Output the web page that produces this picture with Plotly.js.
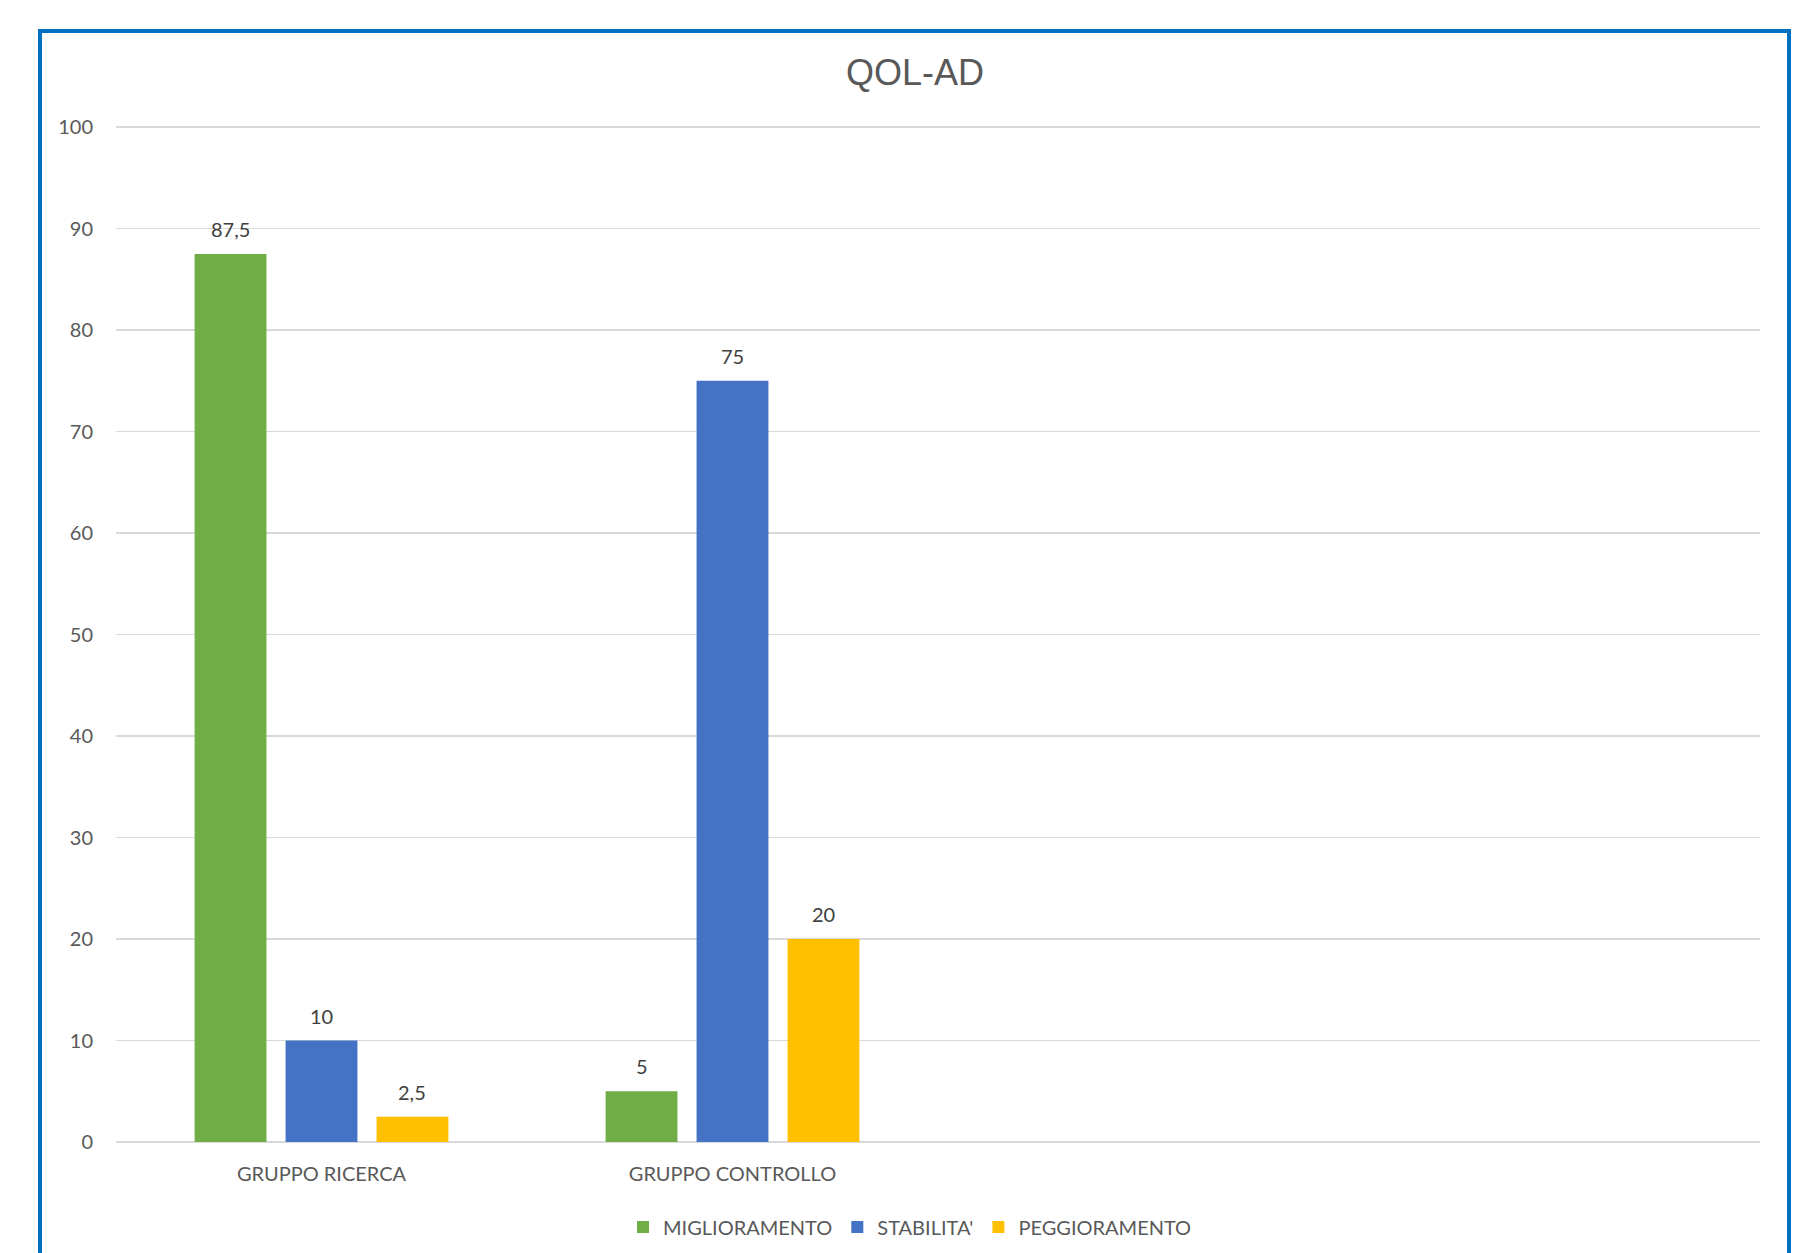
<!DOCTYPE html>
<html>
<head>
<meta charset="utf-8">
<script src="https://cdn.plot.ly/plotly-3.0.1.min.js"></script>
<style>
  html, body { margin: 0; padding: 0; background: #ffffff; }
  #chart { width: 1802px; height: 1253px; }
</style>
</head>
<body>
<div id="chart"></div>
<script>
const categories = ['GRUPPO RICERCA', 'GRUPPO CONTROLLO', ' ', '  '];
const groups = ['GRUPPO RICERCA', 'GRUPPO CONTROLLO'];
const seriesNames = ['MIGLIORAMENTO', "STABILITA'", 'PEGGIORAMENTO'];
const miglioramento = [87.5, 5];
const stabilita = [10, 75];
const peggioramento = [2.5, 20];
const yTicks = [0, 10, 20, 30, 40, 50, 60, 70, 80, 90, 100];

const colors = ['#70AD47', '#4472C4', '#FFC000'];
const seriesValues = [miglioramento, stabilita, peggioramento];
const fmt = v => String(v).replace('.', ',');

const baseFont = "Lato, 'Open Sans', 'Noto Sans', sans-serif";

const bargap = 0.336;
const nSeries = seriesValues.length;
const slot = (1 - bargap) / nSeries;

const traces = seriesValues.map((vals, i) => ({
  type: 'bar',
  name: seriesNames[i],
  x: groups,
  y: vals,
  marker: { color: colors[i], line: { width: 0 } },
  hoverinfo: 'skip'
}));

// data labels placed above each bar (category index + group offset)
const annotations = [];
seriesValues.forEach((vals, i) => {
  vals.forEach((v, j) => {
    annotations.push({
      xref: 'x', yref: 'y',
      x: j + (i - (nSeries - 1) / 2) * slot,
      y: v,
      text: fmt(v),
      showarrow: false,
      yanchor: 'middle',
      xanchor: 'center',
      yshift: 25,
      font: { family: baseFont, size: 20, color: '#404040' }
    });
  });
});

// plot area in pixels: x 116..1760, y 127..1142
const L = 116, R = 1760, B = 1142;
const unit = 10.15; // px per y unit
const yMax = 100.3;
const T = Math.round(B - yMax * unit);
const W = R - L, H = B - T;
const px = x => (x - L) / W;
const py = y => (B - y) / H;

const layout = {
  width: 1802,
  height: 1253,
  paper_bgcolor: '#ffffff',
  plot_bgcolor: '#ffffff',
  margin: { l: L, r: 1802 - R, t: T, b: 1253 - B, pad: 0, autoexpand: false },
  font: { family: baseFont, color: '#595959', size: 20 },
  title: {
    text: 'QOL-AD',
    font: { family: "'Liberation Sans', Arial, sans-serif", size: 36, color: '#595959' },
    x: 915 / 1802, xref: 'container', xanchor: 'center',
    y: 1 - 72 / 1253, yref: 'container', yanchor: 'middle'
  },
  barmode: 'group',
  bargap: bargap,
  bargroupgap: 0.21,
  showlegend: true,
  legend: {
    orientation: 'h',
    x: px(910), xanchor: 'center',
    y: py(1227), yanchor: 'middle',
    font: { family: baseFont, size: 20, color: '#595959' },
    itemwidth: 30,
    traceorder: 'normal'
  },
  xaxis: {
    type: 'category',
    categoryorder: 'array',
    categoryarray: categories,
    range: [-0.5, 3.5],
    showgrid: false,
    showline: false,
    zeroline: false,
    ticks: '',
    ticklabelstandoff: 18,
    tickfont: { family: baseFont, size: 20, color: '#595959' },
    fixedrange: true
  },
  yaxis: {
    range: [0, yMax],
    tickvals: yTicks,
    ticktext: yTicks.map(String),
    showgrid: true,
    gridcolor: '#D9D9D9',
    gridwidth: 1.5,
    zeroline: true,
    zerolinecolor: '#D9D9D9',
    zerolinewidth: 1.5,
    showline: false,
    ticks: '',
    ticklabelstandoff: 22,
    tickfont: { family: baseFont, size: 20, color: '#595959' },
    fixedrange: true
  },
  annotations: annotations,
  shapes: [{
    type: 'rect',
    xref: 'paper', yref: 'paper',
    x0: px(40), x1: px(1789),
    y0: py(1270), y1: py(31),
    line: { color: '#0070C0', width: 4 },
    fillcolor: 'rgba(0,0,0,0)',
    layer: 'above'
  }]
};

Plotly.newPlot('chart', traces, layout, { displayModeBar: false, staticPlot: true });
</script>
</body>
</html>
